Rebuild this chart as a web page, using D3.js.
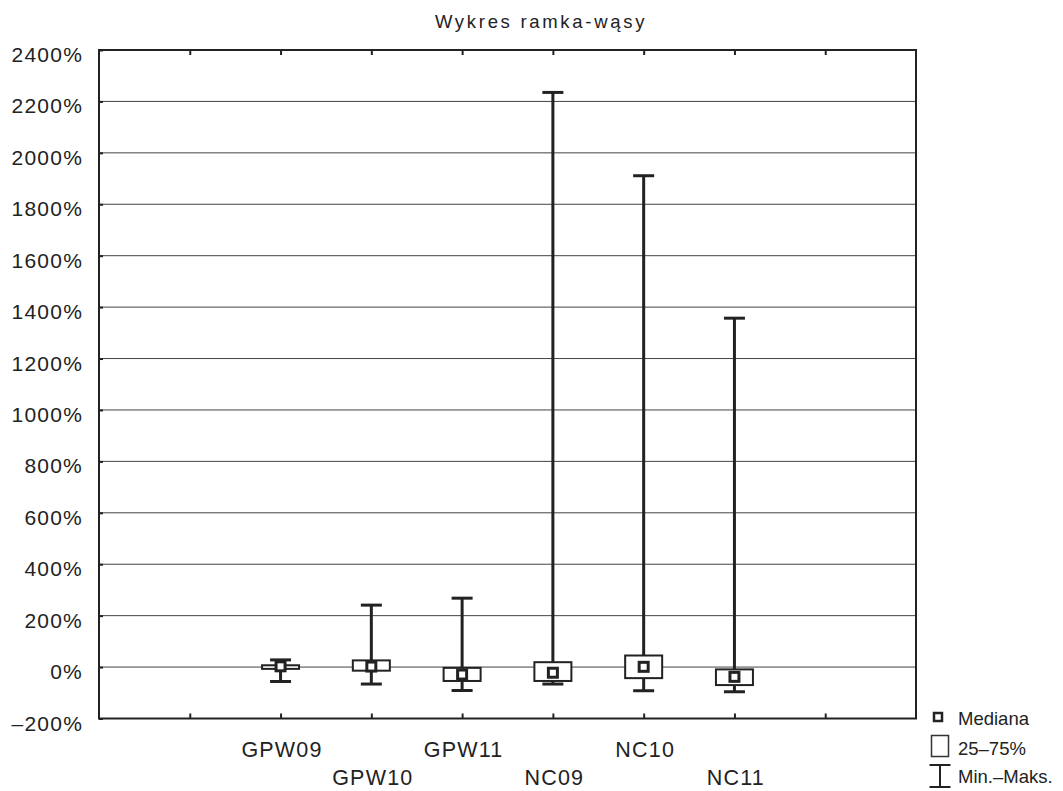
<!DOCTYPE html>
<html>
<head>
<meta charset="utf-8">
<script src="https://cdn.jsdelivr.net/npm/d3@7"></script>
<style>
  html, body { margin: 0; padding: 0; background: #fff; }
  svg { display: block; }
  text { font-family: "Liberation Sans", Arial, sans-serif; fill: #222; }
</style>
</head>
<body>
<svg id="chart" width="1063" height="791"></svg>
<script>
// ---- data ----
const categories = ["GPW09", "GPW10", "GPW11", "NC09", "NC10", "NC11"];
const minValues    = [-56, -66, -91, -66, -92, -96];
const q1Values     = [-7, -14, -54, -54, -43, -70];
const medianValues = [3, 2, -29, -22, 1, -38];
const q3Values     = [7, 26, -3, 19, 45, -9];
const maxValues    = [28, 241, 268, 2235, 1911, 1357];
const yTicks = [-200, 0, 200, 400, 600, 800, 1000, 1200, 1400, 1600, 1800, 2000, 2200, 2400];
const xSlots = [1, 2, 3, 4, 5, 6, 7, 8];
const legendLabels = ["Mediana", "25\u201375%", "Min.\u2013Maks."];
const title = "Wykres ramka-wąsy";

// ---- layout ----
const svg = d3.select("#chart");
const L = 99, R = 916, T = 50, B = 718.5;
const x = d3.scaleLinear().domain([0, 9]).range([L, R]);
const y = d3.scaleLinear().domain([-200, 2400]).range([B, T]);
const catPos = i => x(i + 2);

// gridlines
svg.append("g").selectAll("line").data(yTicks.filter(v => v > -200 && v < 2400)).join("line")
  .attr("x1", L).attr("x2", R)
  .attr("y1", d => y(d)).attr("y2", d => y(d))
  .attr("stroke", "#444").attr("stroke-width", 1);

// axes (ticks inward)
const fmt = d => (d < 0 ? "\u2013" + Math.abs(d) : d) + "%";
const yAxis = svg.append("g").attr("transform", `translate(${L},0)`)
  .call(d3.axisRight(y).tickValues(yTicks).tickSize(4).tickFormat(""));
const xAxisB = svg.append("g").attr("transform", `translate(0,${B})`)
  .call(d3.axisTop(x).tickValues(xSlots).tickSize(5).tickFormat(""));
const xAxisT = svg.append("g").attr("transform", `translate(0,${T})`)
  .call(d3.axisBottom(x).tickValues(xSlots).tickSize(5).tickFormat(""));
[yAxis, xAxisB, xAxisT].forEach(g => {
  g.select(".domain").remove();
  g.selectAll(".tick line").attr("stroke", "#222").attr("stroke-width", 2);
});

// y labels
svg.append("g").selectAll("text").data(yTicks).join("text")
  .attr("x", 83).attr("y", d => y(d) + 12)
  .attr("text-anchor", "end")
  .attr("font-size", 21).attr("letter-spacing", 1.2)
  .text(fmt);

// x labels (alternating rows)
svg.append("g").selectAll("text").data(categories).join("text")
  .attr("x", (d, i) => catPos(i) + 1.5)
  .attr("y", (d, i) => i % 2 === 0 ? 756.5 : 785)
  .attr("text-anchor", "middle")
  .attr("font-size", 21.5).attr("letter-spacing", 1.2)
  .text(d => d);

// frame
svg.append("rect").attr("x", L).attr("y", T).attr("width", R - L).attr("height", B - T)
  .attr("fill", "none").attr("stroke", "#222").attr("stroke-width", 2);

// title
svg.append("text").attr("x", 541).attr("y", 28).attr("text-anchor", "middle")
  .attr("font-size", 18.5).attr("letter-spacing", 2.7).text(title);

// boxes
const boxW = 37, capW = 21, med = 11;
const g = svg.append("g").selectAll("g").data(categories).join("g");
g.append("line")
  .attr("x1", (d, i) => catPos(i)).attr("x2", (d, i) => catPos(i))
  .attr("y1", (d, i) => y(maxValues[i])).attr("y2", (d, i) => y(minValues[i]))
  .attr("stroke", "#222").attr("stroke-width", 3);
g.append("line")
  .attr("x1", (d, i) => catPos(i) - capW / 2).attr("x2", (d, i) => catPos(i) + capW / 2)
  .attr("y1", (d, i) => y(maxValues[i])).attr("y2", (d, i) => y(maxValues[i]))
  .attr("stroke", "#222").attr("stroke-width", 3);
g.append("line")
  .attr("x1", (d, i) => catPos(i) - capW / 2).attr("x2", (d, i) => catPos(i) + capW / 2)
  .attr("y1", (d, i) => y(minValues[i])).attr("y2", (d, i) => y(minValues[i]))
  .attr("stroke", "#222").attr("stroke-width", 3);
g.append("rect")
  .attr("x", (d, i) => catPos(i) - boxW / 2).attr("width", boxW)
  .attr("y", (d, i) => y(q3Values[i])).attr("height", (d, i) => y(q1Values[i]) - y(q3Values[i]))
  .attr("fill", "#fff").attr("stroke", "#222").attr("stroke-width", 2);
g.append("rect")
  .attr("x", (d, i) => catPos(i) - med / 2 + 1).attr("width", med - 2)
  .attr("y", (d, i) => y(medianValues[i]) - med / 2 + 1).attr("height", med - 2)
  .attr("fill", "#fff").attr("stroke", "#222").attr("stroke-width", 3);

// legend
const lg = svg.append("g");
lg.append("rect").attr("x", 934).attr("y", 713).attr("width", 8).attr("height", 8)
  .attr("fill", "#fff").attr("stroke", "#222").attr("stroke-width", 2.5);
lg.append("rect").attr("x", 931.5).attr("y", 735.5).attr("width", 17).attr("height", 21)
  .attr("fill", "#fff").attr("stroke", "#333").attr("stroke-width", 1.5);
lg.append("line").attr("x1", 940).attr("x2", 940).attr("y1", 765).attr("y2", 787).attr("stroke", "#222").attr("stroke-width", 2);
lg.append("line").attr("x1", 929.5).attr("x2", 950.5).attr("y1", 765).attr("y2", 765).attr("stroke", "#222").attr("stroke-width", 2);
lg.append("line").attr("x1", 929.5).attr("x2", 950.5).attr("y1", 787).attr("y2", 787).attr("stroke", "#222").attr("stroke-width", 2);
lg.selectAll("text").data(legendLabels).join("text")
  .attr("x", 958).attr("y", (d, i) => [725, 755, 783][i])
  .attr("font-size", 18.5).text(d => d);
</script>
</body>
</html>
